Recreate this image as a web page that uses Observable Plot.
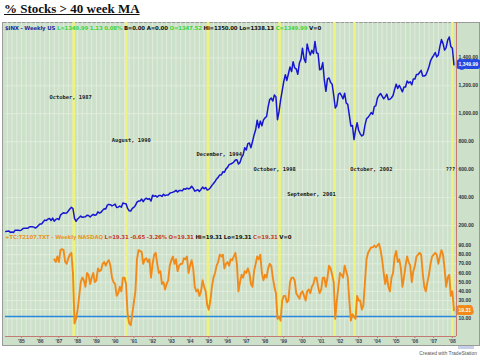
<!DOCTYPE html>
<html><head><meta charset="utf-8">
<script src="https://cdn.jsdelivr.net/npm/d3@7"></script>
<script src="https://cdn.jsdelivr.net/npm/@observablehq/plot@0.6"></script>
<style>
body{margin:0;background:#fff;width:480px;height:361px;overflow:hidden;position:relative;font-family:"Liberation Sans",Arial,sans-serif}
#title{position:absolute;left:4px;top:1px;font:bold 13px "Liberation Serif","Times New Roman",serif;text-decoration:underline;color:#111}
#frame{position:absolute;left:2px;top:22px;width:478px;height:324px;background:#cde1ca;border:1px solid #9a9a9a;box-sizing:border-box}
#upper,#lower{position:absolute;left:0;width:480px}
#upper{top:22px}#lower{top:233px}
.hdr{position:absolute;left:5px;font-weight:bold;font-size:5.4px;white-space:nowrap;font-family:"DejaVu Sans",sans-serif;letter-spacing:-0.15px}
#credit{position:absolute;right:3px;top:350px;font-size:5px;color:#555}
#scroll{position:absolute;left:458px;top:346px;width:16px;height:3px;background:#c8d0e8}
</style></head>
<body>
<div id="frame"></div>
<div id="title">% Stocks &gt; 40 week MA</div>
<div id="upper"></div>
<div id="lower"></div>
<div class="hdr" style="top:25px"><span style="color:#1c2a9c">$INX - Weekly US</span> <span style="color:#3fd43f">L=1349.99 1.13 0.08%</span> <span style="color:#111">B=0.00 A=0.00</span> <span style="color:#3fd43f">O=1347.52</span> <span style="color:#111">Hi=1350.00 Lo=1338.13</span> <span style="color:#3fd43f">C=1349.99</span> <span style="color:#111">V=0</span></div>
<div class="hdr" style="top:234px"><span style="color:#e8962a">+TC:T2107.TXT - Weekly NASDAQ</span> <span style="color:#c83a2a">L=19.31 -0.65 -3.26% O=19.31</span> <span style="color:#111">Hi=19.31 Lo=19.31</span> <span style="color:#c83a2a">C=19.31</span> <span style="color:#111">V=0</span></div>
<div id="scroll"></div>
<div id="credit">Created with TradeStation</div>
<script>
// S&P 500 ($INX) monthly closes, Feb 1984 .. Jan 2008
const spxStart = 1984 + 1/12;
const spxClose = [
 157.1,159.2,160.1,150.6,153.2,150.7,166.7,166.1,166.1,163.6,167.2,
 179.6,181.2,180.7,179.8,189.6,191.9,190.9,188.6,182.1,189.8,202.2,211.3,
 211.8,226.9,238.9,235.5,247.4,250.8,236.1,252.9,231.3,243.9,249.2,242.2,
 274.1,284.2,291.7,288.4,290.1,304.0,318.7,329.8,321.8,251.8,230.3,247.1,
 257.1,267.8,258.9,261.3,262.2,273.5,272.0,261.5,271.9,279.0,273.7,277.7,
 297.5,288.9,294.9,309.6,320.5,318.0,346.1,351.5,349.2,340.4,346.0,353.4,
 329.1,331.9,339.9,330.8,361.2,358.0,356.2,322.6,306.1,304.0,322.2,330.2,
 343.9,367.1,375.2,375.3,389.8,371.2,387.8,395.4,387.9,392.5,375.2,417.1,
 408.8,412.7,403.7,415.0,415.4,408.1,424.2,414.0,417.8,418.7,431.4,435.7,
 438.8,443.4,451.7,440.2,450.2,450.5,448.1,463.6,458.9,467.8,461.8,466.4,
 481.6,467.1,445.8,450.9,456.5,444.3,458.3,475.5,462.7,472.4,453.7,459.3,
 470.4,487.4,500.7,514.7,533.4,544.8,562.1,561.9,584.4,581.5,605.4,615.9,
 636.0,640.4,645.5,654.2,669.1,670.6,640.0,652.0,687.3,705.3,757.0,740.7,
 786.2,790.8,757.1,801.3,848.3,885.1,954.3,899.5,947.3,914.6,955.4,970.4,
 980.3,1049.3,1101.8,1111.8,1090.8,1133.8,1120.7,957.3,1017.0,1098.7,1163.6,1229.2,
 1279.6,1238.3,1286.4,1335.2,1301.8,1372.7,1328.7,1320.4,1282.7,1362.9,1388.9,1469.3,
 1394.5,1366.4,1498.6,1452.4,1420.6,1454.6,1430.8,1517.7,1436.5,1429.4,1315.2,1320.3,
 1366.0,1239.9,1160.3,1249.5,1255.8,1224.4,1211.2,1133.6,1040.9,1059.8,1139.5,1148.1,
 1130.2,1106.7,1147.4,1076.9,1067.1,989.8,911.6,916.1,815.3,885.8,936.3,879.8,
 855.7,841.2,848.2,916.9,963.6,974.5,990.3,1008.0,996.0,1050.7,1058.2,1111.9,
 1131.1,1144.9,1126.2,1107.3,1120.7,1140.8,1101.7,1104.2,1114.6,1130.2,1173.8,1211.9,
 1181.3,1203.6,1180.6,1156.9,1191.5,1191.3,1234.2,1220.3,1228.8,1207.0,1249.5,1248.3,
 1280.1,1280.7,1294.8,1310.6,1270.1,1270.2,1276.7,1303.8,1335.9,1377.9,1400.6,1418.3,
 1438.2,1406.8,1420.9,1482.4,1530.6,1503.4,1455.3,1474.0,1526.8,1549.4,1481.1,1468.4,
 1349.99
];
// T2107 (% of stocks above 40-week MA) monthly readings, Sep 1986 .. Jan 2008
const t2107Start = 1986 + 8/12;
const t2107 = [
 75,72,78,72,
 85,86,85,72,70,76,80,82,60,5,10,20,
 35,50,55,52,45,60,58,48,55,60,50,52,
 65,62,63,70,72,68,72,74,68,55,50,48,
 35,38,45,40,55,55,48,15,5,3,15,28,
 40,75,85,84,83,70,75,76,72,75,55,70,
 80,82,70,60,62,48,50,42,48,52,68,74,
 78,70,75,62,68,70,70,76,75,78,60,68,
 74,65,45,40,42,35,40,52,45,40,25,20,
 30,45,55,60,68,72,80,78,80,65,70,72,
 68,75,74,78,82,70,40,50,58,55,62,60,
 65,60,48,45,62,70,78,75,80,60,52,58,
 55,65,70,68,55,45,38,10,12,8,30,35,
 35,28,30,50,55,55,52,38,35,32,38,40,
 35,30,40,42,38,45,48,55,55,45,38,42,
 55,55,45,55,68,65,58,50,10,30,45,60,
 58,55,68,62,55,30,8,15,12,10,35,30,
 30,20,25,50,75,82,85,88,88,90,88,90,
 92,85,75,60,48,58,45,40,55,60,78,84,
 72,75,65,45,55,68,78,72,68,50,62,68,
 78,80,82,80,60,45,40,50,58,70,78,80,
 82,80,70,78,85,80,65,45,55,58,35,40,
 19.31
];
const eventDates = [1987.79, 1990.6, 1994.95, 1998.78, 2001.7, 2002.78, 2008.0];
const eventLabels = ["October, 1987","August, 1990","December, 1994","October, 1998","September, 2001","October, 2002","???"];
const eventLabelDates = [1987.63, 1990.86, 1995.56, 1998.51, 2000.48, 2003.68, 2007.9];
const eventLabelLevels = [1115, 810, 710, 600, 425, 600, 600];
const spxTicks = [200,400,600,800,1000,1200,1400];
const t2107Ticks = [10,20,30,40,50,60,70,80,90];
const alertLevel = 12.5;
const years = d3.range(1985, 2009);

const xDomain = [1984.15, 2008.22];
const spx = spxClose.map((v,i)=>({x: spxStart + (i+1)/12, y: v}));
const tc = t2107.map((v,i)=>({x: t2107Start + (i+1)/12, y: v}));
const quarters = d3.range(1984.25, 2008.2, 0.25);
const events = eventLabels.map((t,i)=>({t, x: eventLabelDates[i], y: eventLabelLevels[i]}));
const lastSpx = spx[spx.length-1], lastTc = tc[tc.length-1];

const grid = "#e4efe1", yellow = "#eef27e", red = "#c27a72";
const style = {background:"transparent", fontFamily:"'Liberation Sans',Arial,sans-serif", fontSize:"5px", fontWeight:"bold", color:"#333", overflow:"visible", display:"block"};

const upperChart = Plot.plot({
  width: 480, height: 211, marginLeft: 5, marginRight: 24, marginTop: 0, marginBottom: 0,
  style,
  x: {domain: xDomain, axis: null},
  y: {domain: [143, 1653], label: null},
  marks: [
    Plot.ruleX(quarters, {stroke: grid, strokeWidth: 0.8}),
    Plot.ruleY(spxTicks, {stroke: grid, strokeWidth: 0.8}),
    Plot.ruleX(eventDates, {stroke: yellow, strokeWidth: 2.6}),
    Plot.line(spx, {x: "x", y: "y", stroke: "#1616d2", strokeWidth: 1.5}),
    Plot.text(events, {x: "x", y: "y", text: "t", fontFamily: "'DejaVu Sans Mono',monospace", fontSize: 5.4, fill: "#222"}),
    Plot.axisY({anchor: "right", label: null, ticks: spxTicks, tickFormat: d3.format(",.2f"), tickSize: 0, tickPadding: 2}),
    Plot.text([lastSpx], {x: () => xDomain[1], y: "y", text: d => d3.format(",.2f")(d.y), textAnchor: "start", dx: 2, fill: "#fff", stroke: "#2448e0", strokeWidth: 6, paintOrder: "stroke", fontSize: 5}),
    Plot.ruleX([xDomain[1]], {stroke: red, strokeWidth: 1})
  ]
});
document.getElementById("upper").appendChild(upperChart);

const lowerChart = Plot.plot({
  width: 480, height: 120, marginLeft: 5, marginRight: 24, marginTop: 0, marginBottom: 17,
  style,
  x: {domain: xDomain, label: null},
  y: {domain: [-9.3, 103.1], label: null},
  marks: [
    Plot.ruleX(quarters, {stroke: grid, strokeWidth: 0.8}),
    Plot.ruleY(t2107Ticks, {stroke: grid, strokeWidth: 0.8}),
    Plot.ruleX(eventDates, {stroke: yellow, strokeWidth: 2.6}),
    Plot.ruleY([alertLevel], {stroke: "#2a8ae0", strokeWidth: 1.5}),
    Plot.line(tc, {x: "x", y: "y", stroke: "#f28a1a", strokeWidth: 1.9}),
    Plot.axisY({anchor: "right", label: null, ticks: t2107Ticks, tickFormat: d3.format(".2f"), tickSize: 0, tickPadding: 2}),
    Plot.text([lastTc], {x: () => xDomain[1], y: "y", text: d => d3.format(".2f")(d.y), textAnchor: "start", dx: 2, fill: "#fff", stroke: "#f28a1a", strokeWidth: 6, paintOrder: "stroke", fontSize: 5}),
    Plot.axisX({label: null, ticks: years, tickFormat: d => "'" + String(d).slice(2), tickSize: 2, tickPadding: 1, stroke: red, fill: "#445"}),
    Plot.ruleY([-9.3], {stroke: red, strokeWidth: 1}),
    Plot.ruleX([xDomain[1]], {y1: -9.3, y2: 103.1, stroke: red, strokeWidth: 1})
  ]
});
document.getElementById("lower").appendChild(lowerChart);
</script>
</body></html>
